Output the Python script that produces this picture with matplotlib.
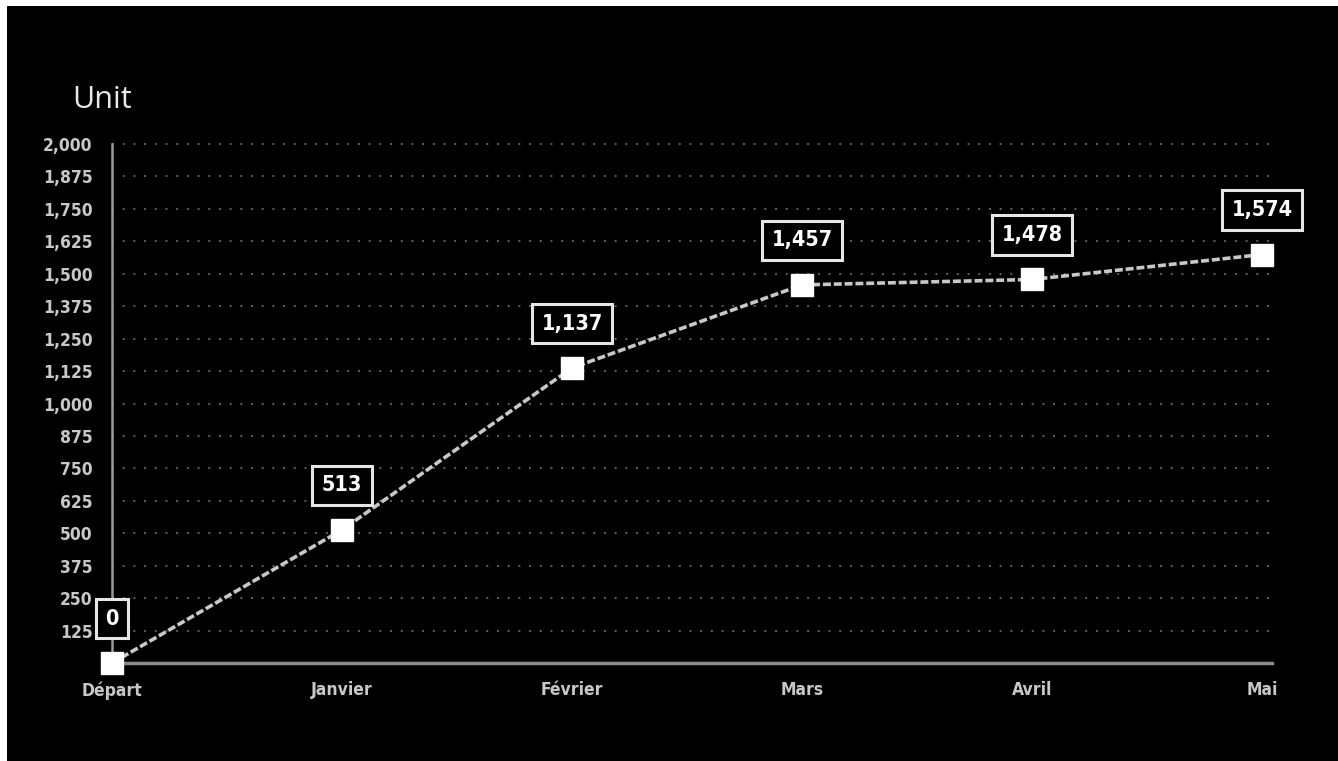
import matplotlib
matplotlib.use("Agg")
import matplotlib.pyplot as plt
from matplotlib.patches import Rectangle
from matplotlib.ticker import FuncFormatter

categories = ["Départ", "Janvier", "Février", "Mars", "Avril", "Mai"]
values = [0, 513, 1137, 1457, 1478, 1574]
y_ticks = list(range(125, 2001, 125))

W, H = 1338, 761
fig = plt.figure(figsize=(W / 100, H / 100), dpi=100, facecolor="white")
fig.patches.append(Rectangle((7 / W, 0), 1 - 7 / W, 1 - 6 / H, transform=fig.transFigure,
                             facecolor="black", edgecolor="none", zorder=-10))

x0, x1 = 112, 1262
y0, y1 = 663, 144
ax = fig.add_axes([x0 / W, 1 - y0 / H, (x1 - x0) / W, (y0 - y1) / H])
ax.set_facecolor("none")
xs = list(range(len(categories)))
ax.set_xlim(0, len(categories) - 1)
ax.set_ylim(0, 2000)

tick_font = ["Liberation Sans Narrow", "DejaVu Sans"]
ax.set_yticks(y_ticks)
ax.yaxis.set_major_formatter(FuncFormatter(lambda v, p: f"{int(v):,}"))
ax.set_xticks(xs)
ax.set_xticklabels(categories)
for lab in ax.get_yticklabels() + ax.get_xticklabels():
    lab.set_family(tick_font)
    lab.set_fontweight("bold")
    lab.set_fontstretch("condensed")
    lab.set_fontsize(12.5)
    lab.set_color("#c8c8c8")
ax.tick_params(axis="y", length=0, pad=14)
ax.tick_params(axis="x", length=0, pad=13)

for v in y_ticks:
    ax.plot([0, 5.045], [v, v], color="#606060", lw=1.4, ls=(0, (1, 4.5)), clip_on=False, zorder=1)

for s in ["top", "right"]:
    ax.spines[s].set_visible(False)
ax.spines["left"].set_color("#9a9a9a")
ax.spines["left"].set_linewidth(1.8)
ax.spines["bottom"].set_visible(False)
ax.plot([0, 5.045], [0, 0], color="#8a8a8a", lw=2.5, clip_on=False, zorder=2)

ax.plot(xs, values, color="#c8c8c8", lw=2.6, ls=(0, (2.2, 0.8)), zorder=3, clip_on=False)
ax.plot(xs, values, ls="none", marker="s", ms=16, mfc="white", mec="white", zorder=4, clip_on=False)

for x, v in zip(xs, values):
    ax.annotate(f"{v:,}", (x, v), xytext=(0, 32), textcoords="offset points",
                ha="center", va="center", fontsize=15.5, fontweight="bold", fontstretch="condensed",
                family=tick_font, color="white", zorder=5,
                bbox=dict(boxstyle="square,pad=0.45", fc="black", ec="#e6e6e6", lw=2.2))

fig.text(72 / W, 1 - 100 / H, "Unit", fontsize=22, color="#e8e8e8",
         family=["Open Sans", "DejaVu Sans"], va="center", ha="left")

fig.savefig("out.png", dpi=100, facecolor=fig.get_facecolor())
